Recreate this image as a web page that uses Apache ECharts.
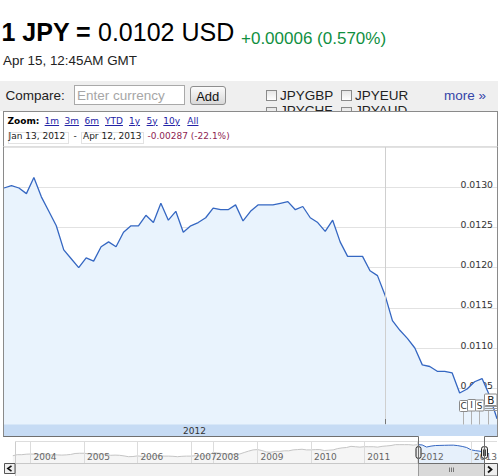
<!DOCTYPE html>
<html><head><meta charset="utf-8"><title>JPY to USD</title>
<script src="https://cdn.jsdelivr.net/npm/echarts@6.0.0/dist/echarts.min.js"></script>
<style>
*{box-sizing:border-box}
html,body{margin:0;padding:0;width:500px;height:476px;overflow:hidden;background:#fff;font-family:"Liberation Sans",Arial,sans-serif;color:#000}
.a{position:absolute;white-space:nowrap;line-height:1}
.v{font-family:"DejaVu Sans",Verdana,sans-serif}
.bar{position:absolute;left:0;top:81px;width:498px;height:30px;background:#efefef;overflow:hidden}
.cb{position:absolute;width:11px;height:11px;border:1px solid #8a8a8a;background:linear-gradient(#e6e6e6,#fff)}
.lk{color:#2323a6;text-decoration:underline}
</style></head><body>
<div class="a" style="left:1.5px;top:19.5px;font-size:25px;font-weight:bold">1 JPY =</div>
<div class="a" style="left:98px;top:19.5px;font-size:25px">0.0102 USD</div>
<div class="a" style="left:241px;top:29.9px;font-size:17px;color:#0f8f3f">+0.00006 (0.570%)</div>
<div class="a" style="left:3px;top:53.7px;font-size:13.4px;color:#222">Apr 15, 12:45AM GMT</div>

<div class="bar">
  <div class="a" style="left:5.5px;top:8px;font-size:13.5px;color:#222">Compare:</div>
  <div style="position:absolute;left:74px;top:4.3px;width:110.5px;height:20px;border:1px solid #a9a9a9;background:#fff"></div>
  <div class="a" style="left:77px;top:8px;font-size:13.5px;color:#a6a6a6">Enter currency</div>
  <div style="position:absolute;left:190px;top:5px;width:35.5px;height:19px;border:1px solid #8e8e8e;border-radius:3px;background:linear-gradient(#fbfbfb,#d8d8d8)"></div>
  <div class="a" style="left:190px;width:35.5px;text-align:center;top:8.5px;font-size:13px;color:#111">Add</div>
  <div class="cb" style="left:265.5px;top:9px"></div>
  <div class="a" style="left:280px;top:8px;font-size:13.5px;color:#222">JPYGBP</div>
  <div class="cb" style="left:340.5px;top:9px"></div>
  <div class="a" style="left:355px;top:8px;font-size:13.5px;color:#222">JPYEUR</div>
  <div class="a" style="left:444px;top:8px;font-size:13.5px;color:#3345a8">more »</div>
  <div class="cb" style="left:265.5px;top:26px"></div>
  <div class="a" style="left:280px;top:23.2px;font-size:13.5px;color:#222">JPYCHF</div>
  <div class="cb" style="left:340.5px;top:26px"></div>
  <div class="a" style="left:355px;top:23.2px;font-size:13.5px;color:#222">JPYAUD</div>
</div>

<div style="position:absolute;left:3px;top:111px;width:495px;height:36px;border:1px solid #8a8a8a;border-bottom:1px solid #dedede;background:#fff"></div>
<div class="a v" style="left:7.5px;top:116.7px;font-size:9px;font-weight:bold">Zoom:</div>
<div class="a v lk" style="left:44.6px;top:116.7px;font-size:9px">1m</div>
<div class="a v lk" style="left:64.6px;top:116.7px;font-size:9px">3m</div>
<div class="a v lk" style="left:84.6px;top:116.7px;font-size:9px">6m</div>
<div class="a v lk" style="left:105px;top:116.7px;font-size:9px">YTD</div>
<div class="a v lk" style="left:129px;top:116.7px;font-size:9px">1y</div>
<div class="a v lk" style="left:146.6px;top:116.7px;font-size:9px">5y</div>
<div class="a v lk" style="left:163.3px;top:116.7px;font-size:9px">10y</div>
<div class="a v lk" style="left:187.3px;top:116.7px;font-size:9px">All</div>
<div style="position:absolute;left:7.5px;top:131.5px;width:61px;height:12px;border:1px solid #e2e2e2"></div>
<div class="a v" style="left:8.5px;top:131.9px;font-size:9px;color:#222">Jan 13, 2012</div>
<div class="a v" style="left:73.5px;top:131.9px;font-size:9px;color:#222">-</div>
<div style="position:absolute;left:81px;top:131.5px;width:62.5px;height:12px;border:1px solid #e2e2e2"></div>
<div class="a v" style="left:83px;top:131.9px;font-size:9px;color:#222">Apr 12, 2013</div>
<div class="a v" style="left:147.5px;top:131.9px;font-size:9px;color:#8e2452">-0.00287 (-22.1%)</div>

<div id="chart" style="position:absolute;left:0;top:147px;width:500px;height:329px"></div>
<script>
// weekly sample dates of the main chart
const categories = ["2012-01-13","2012-01-20","2012-01-27","2012-02-03","2012-02-10","2012-02-16","2012-02-23","2012-03-01","2012-03-08","2012-03-15","2012-03-22","2012-03-29","2012-04-05","2012-04-12","2012-04-19","2012-04-25","2012-05-02","2012-05-09","2012-05-16","2012-05-23","2012-05-30","2012-06-06","2012-06-13","2012-06-20","2012-06-26","2012-07-03","2012-07-10","2012-07-17","2012-07-24","2012-07-31","2012-08-07","2012-08-14","2012-08-21","2012-08-28","2012-09-03","2012-09-10","2012-09-17","2012-09-24","2012-10-01","2012-10-08","2012-10-15","2012-10-22","2012-10-29","2012-11-04","2012-11-11","2012-11-18","2012-11-25","2012-12-02","2012-12-09","2012-12-16","2012-12-23","2012-12-30","2013-01-05","2013-01-12","2013-01-19","2013-01-26","2013-02-02","2013-02-09","2013-02-16","2013-02-23","2013-03-02","2013-03-09","2013-03-15","2013-03-22","2013-03-29","2013-04-05","2013-04-12"];
// JPY in USD
const rateValues = [0.01299,0.01302,0.01299,0.01292,0.01312,0.01288,0.01270,0.01252,0.01222,0.01211,
 0.01200,0.01212,0.01208,0.01226,0.01232,0.01226,0.01244,0.01252,0.01252,0.01265,
 0.01256,0.01280,0.01259,0.01270,0.01244,0.01252,0.01256,0.01262,0.01274,0.01272,
 0.01272,0.01278,0.01258,0.01270,0.01278,0.01278,0.01278,0.01280,0.01282,0.01272,
 0.01276,0.01262,0.01256,0.01245,0.01259,0.01232,0.01214,0.01214,0.01214,0.01196,
 0.01190,0.01166,0.01134,0.01122,0.01112,0.01100,0.01079,0.01077,0.01071,0.01071,
 0.01069,0.01044,0.01049,0.01058,0.01062,0.01041,0.01012];
// navigator (long history) sample months
const navMonths = ["2003-09","2003-10","2003-11","2003-12",
 "2004-01","2004-02","2004-03","2004-04","2004-05","2004-06","2004-07","2004-08","2004-09","2004-10","2004-11","2004-12",
 "2005-01","2005-02","2005-03","2005-04","2005-05","2005-06","2005-07","2005-08","2005-09","2005-10","2005-11","2005-12",
 "2006-01","2006-02","2006-03","2006-04","2006-05","2006-06","2006-07","2006-08","2006-09","2006-10","2006-11","2006-12",
 "2007-08","2007-09","2007-10","2007-11","2007-12",
 "2008-03","2008-04","2008-05","2008-06","2008-07","2008-08","2008-09","2008-10","2008-11","2008-12",
 "2009-01","2009-02","2009-03","2009-04","2009-05","2009-06","2009-07","2009-08","2009-09","2009-10","2009-11","2009-12",
 "2010-01","2010-02","2010-03","2010-04","2010-05","2010-06","2010-07","2010-08","2010-09","2010-10","2010-11","2010-12",
 "2011-01","2011-02","2011-03","2011-04","2011-05","2011-06","2011-07","2011-08","2011-09","2011-10","2011-11","2011-12",
 "2012-01","2012-02","2012-03","2012-04","2012-05","2012-06","2012-07","2012-08","2012-09","2012-10","2012-11","2012-12",
 "2013-01","2013-02","2013-03","2013-04"];
const navValues = [0.00877,0.00917,0.00917,0.00935,
 0.00943,0.00935,0.00926,0.00962,0.00893,0.00917,0.00909,0.00901,0.00909,0.00926,0.00962,0.00971,
 0.00971,0.00952,0.00952,0.00935,0.00943,0.00926,0.00893,0.00901,0.00893,0.00870,0.00840,0.00847,
 0.00870,0.00855,0.00855,0.00855,0.00893,0.00877,0.00862,0.00862,0.00855,0.00840,0.00855,0.00862,
 0.00862,0.00877,0.00870,0.00870,0.00893,
 0.01000,0.00980,0.00962,0.00943,0.00935,0.00926,0.00943,0.01000,0.01053,0.01099,
 0.01111,0.01075,0.01020,0.01010,0.01042,0.01042,0.01064,0.01064,0.01099,0.01111,0.01124,0.01099,
 0.01099,0.01111,0.01111,0.01075,0.01087,0.01099,0.01149,0.01176,0.01190,0.01235,0.01220,0.01205,
 0.01220,0.01220,0.01220,0.01205,0.01235,0.01250,0.01266,0.01299,0.01299,0.01299,0.01299,0.01282,
 0.01300,0.01288,0.01208,0.01244,0.01265,0.01270,0.01274,0.01278,0.01280,0.01262,0.01232,0.01190,
 0.01100,0.01071,0.01049,0.01012];

const F = '"DejaVu Sans", Verdana, sans-serif';
const yearOf = s => s.slice(0, 4);
const isYearStart = (i) => i > 0 && yearOf(navMonths[i]) !== yearOf(navMonths[i - 1]);
const lastIdx2012 = categories.map(yearOf).lastIndexOf('2012');
const winStart = navMonths.indexOf('2012-01');
const winEnd = navMonths.length - 1;
const LINE = '#3567c2';

const chart = echarts.init(document.getElementById('chart'), null, {renderer: 'svg'});
chart.setOption({
  animation: false,
  grid: [
    {left: 4, right: 3, top: -10.74, height: 292.14},
    {left: 12.8, right: 12.5, top: 295, height: 21}
  ],
  xAxis: [
    {type: 'category', gridIndex: 0, data: categories, boundaryGap: false,
     axisLine: {show: false}, axisTick: {show: false}, axisLabel: {show: false}, splitLine: {show: false}},
    {type: 'category', gridIndex: 1, data: navMonths, boundaryGap: false, z: 10,
     axisLine: {show: false}, axisTick: {show: false},
     axisLabel: {show: true, interval: isYearStart, formatter: v => yearOf(v),
       align: 'left', padding: [0, 0, 0, 3], verticalAlign: 'top', lineHeight: 10, margin: -11.5,
       color: '#666', fontSize: 9, fontFamily: F},
     splitLine: {show: true, interval: isYearStart, lineStyle: {color: '#dcdcdc', width: 1}}}
  ],
  yAxis: [
    {type: 'value', gridIndex: 0, position: 'right', min: 0.0100, max: 0.0135, interval: 0.0005,
     axisLine: {show: false}, axisTick: {show: false},
     axisLabel: {inside: true, margin: 4, formatter: v => v.toFixed(4), showMinLabel: false, showMaxLabel: false,
       color: '#333', fontSize: 9.3, fontFamily: F, verticalAlign: 'bottom', lineHeight: 6},
     splitLine: {lineStyle: {color: '#e2e2e2', width: 1}}},
    {type: 'value', gridIndex: 1, min: 0.006, max: 0.014, show: false}
  ],
  series: [
    {type: 'line', xAxisIndex: 0, yAxisIndex: 0, data: rateValues, symbol: 'none',
     lineStyle: {color: LINE, width: 1.3}, areaStyle: {color: '#e9f3fd', opacity: 1},
     markLine: {silent: true, symbol: 'none', label: {show: false},
       lineStyle: {color: '#cfcfcf', width: 1, type: 'solid'},
       data: [{xAxis: categories[lastIdx2012]}]}},
    {type: 'line', xAxisIndex: 1, yAxisIndex: 1, symbol: 'none',
     data: navValues.map((v, i) => i <= winStart ? v : '-'),
     lineStyle: {color: '#c4c4c4', width: 1}, areaStyle: {color: '#f5f5f5', opacity: 1}},
    {type: 'line', xAxisIndex: 1, yAxisIndex: 1, symbol: 'none',
     data: navValues.map((v, i) => i >= winStart ? v : '-'),
     lineStyle: {color: LINE, width: 1}, areaStyle: {color: '#e6f0fb', opacity: 1}}
  ]
});

const xm = i => chart.convertToPixel({gridIndex: 0}, [i, 0.012])[0];
const xn = i => chart.convertToPixel({gridIndex: 1}, [i, 0.01])[0];
const X0 = xm(0), XB = xm(lastIdx2012);
const W0 = Math.round(xn(winStart)) + 0.5, W1 = Math.round(xn(winEnd)) + 0.5;
const Z = 100;
const ln = (x1, y1, x2, y2, stroke, w) => ({type: 'line', z: Z, shape: {x1, y1, x2, y2}, style: {stroke, lineWidth: w || 1}});
const box = (x, y, width, height, fill, stroke, r) => ({type: 'rect', z: Z, shape: {x, y, width, height, r: r || 0}, style: {fill, stroke, lineWidth: 1}});
const txt = (text, x, y, size, fill, weight) => ({type: 'text', z: Z + 1, style: {text, x, y, align: 'center', verticalAlign: 'middle', font: (weight || 'normal') + ' ' + size + 'px ' + F, fill}});

const g = [
  ln(3.5, 0, 3.5, 290, '#8a8a8a'),
  ln(497.5, 0, 497.5, 290, '#8a8a8a'),
  box(4, 277.5, 493, 11.5, '#c6dbf4', null),
  txt('2012', (X0 + XB) / 2, 283.5, 9, '#333'),
  ln(Math.round(XB) + 0.5, 272, Math.round(XB) + 0.5, 277, '#777'),
  {type: 'polyline', z: Z + 2, shape: {points: [[3.5, 289.5], [W0, 289.5], [W0, 316.5], [W1, 316.5], [W1, 289.5], [497.5, 289.5]]},
   style: {stroke: '#6f6f6f', lineWidth: 1, fill: null}},
  ln(15.5, 294.5, 497, 294.5, '#dddddd'),
  ln(15.5, 294.5, 15.5, 316, '#cccccc'),
  // flags
  ln(463.5, 264, 463.5, 277.5, '#b0b0b0'),
  ln(471.5, 264, 471.5, 277.5, '#b0b0b0'),
  ln(479.5, 264, 479.5, 277.5, '#b0b0b0'),
  ln(488.5, 264, 488.5, 277.5, '#b0b0b0'),
  box(459.5, 253.5, 8.5, 11, '#ffffff', '#8a8a8a', 1),
  txt('C', 463.7, 259.2, 9, '#333'),
  box(467.5, 252.5, 8.5, 11.5, '#ffffff', '#8a8a8a', 1),
  txt('I', 471.7, 258.3, 9, '#333'),
  box(475.5, 253, 8.5, 11, '#ffffff', '#8a8a8a', 1),
  txt('S', 479.7, 258.7, 9, '#333'),
  ln(484.5, 259.5, 497, 259.5, '#9a9a9a'),
  ln(484.5, 261.5, 497, 261.5, '#9a9a9a'),
  ln(484.5, 263.5, 497, 263.5, '#9a9a9a'),
  box(484.5, 247, 12.5, 11.5, '#ffffff', '#8a8a8a', 1),
  txt('B', 490.8, 252.8, 10.5, '#222'),
  // scrollbar
  box(15.5, 316.5, 481.5, 13, '#f2f2f2', '#c8c8c8'),
  box(4.5, 316.5, 10.5, 10, '#efefef', '#555555'),
  {type: 'polyline', z: Z + 1, shape: {points: [[11.5, 318.8], [7.8, 321.5], [11.5, 324.2]]}, style: {stroke: '#111', lineWidth: 1.6, fill: null}},
  box(W0, 316.5, W1 - W0, 13, '#d9d9d9', '#9a9a9a'),
  ln((W0 + W1) / 2 - 2, 320.5, (W0 + W1) / 2 - 2, 325, '#777'),
  ln((W0 + W1) / 2, 320.5, (W0 + W1) / 2, 325, '#777'),
  ln((W0 + W1) / 2 + 2, 320.5, (W0 + W1) / 2 + 2, 325, '#777'),
  box(W1, 316.5, 497.5 - W1, 12.5, '#efefef', '#555555'),
  {type: 'polyline', z: Z + 1, shape: {points: [[W1 + 3.5, 319.5], [W1 + 7, 322.5], [W1 + 3.5, 325.5]]}, style: {stroke: '#111', lineWidth: 1.8, fill: null}},
  // handles
  box(W0 - 2.5, 299.7, 5, 11.6, '#ececec', '#222', 2),
  ln(W0, 302.5, W0, 309, '#444'),
  box(W1 - 3, 299.7, 6, 11.6, '#ececec', '#222', 2),
  ln(W1 - 1, 302.5, W1 - 1, 309, '#444'),
  ln(W1 + 1, 302.5, W1 + 1, 309, '#444')
];
chart.setOption({graphic: g});
</script>
</body></html>
